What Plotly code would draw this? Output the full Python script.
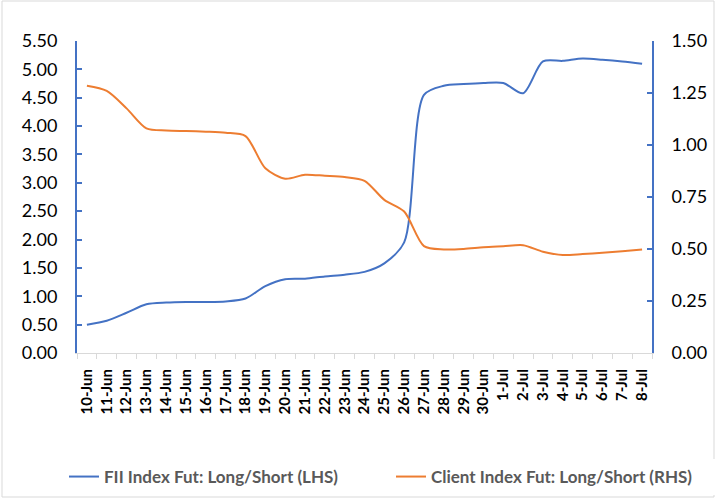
import plotly.graph_objects as go

dates = ["10-Jun", "11-Jun", "12-Jun", "13-Jun", "14-Jun", "15-Jun", "16-Jun", "17-Jun",
         "18-Jun", "19-Jun", "20-Jun", "21-Jun", "22-Jun", "23-Jun", "24-Jun", "25-Jun",
         "26-Jun", "27-Jun", "28-Jun", "29-Jun", "30-Jun", "1-Jul", "2-Jul", "3-Jul",
         "4-Jul", "5-Jul", "6-Jul", "7-Jul", "8-Jul"]

fii_ls = [0.50, 0.57, 0.71, 0.86, 0.89, 0.90, 0.90, 0.91, 0.96, 1.18, 1.30, 1.31, 1.35,
          1.38, 1.43, 1.58, 1.95, 4.55, 4.71, 4.74, 4.76, 4.76, 4.58, 5.14, 5.15, 5.19,
          5.17, 5.14, 5.10]

client_ls = [1.285, 1.26, 1.176, 1.08, 1.07, 1.067, 1.064, 1.059, 1.043, 0.888, 0.838,
             0.857, 0.852, 0.846, 0.828, 0.736, 0.68, 0.514, 0.498, 0.50, 0.508, 0.513,
             0.518, 0.487, 0.471, 0.476, 0.482, 0.489, 0.497]

FONT = "Lato, 'Open Sans', sans-serif"
BLUE = "#4472C4"
ORANGE = "#ED7D31"

fig = go.Figure()
fig.add_trace(go.Scatter(x=dates, y=fii_ls, name="FII Index Fut: Long/Short (LHS)",
                         mode="lines", line=dict(color=BLUE, width=2, shape="spline", smoothing=0.8),
                         yaxis="y"))
fig.add_trace(go.Scatter(x=dates, y=client_ls, name="Client Index Fut: Long/Short (RHS)",
                         mode="lines", line=dict(color=ORANGE, width=2, shape="spline", smoothing=0.8),
                         yaxis="y2"))

W, H = 717, 499
L, R, T, B = 77, 65, 41, 146
pw, ph = W - L - R, H - T - B

def px_x(x):
    return (x - L) / pw

def px_y(y):
    return (H - B - y) / ph

fig.update_layout(
    width=W, height=H,
    margin=dict(l=L, r=R, t=T, b=B, autoexpand=False),
    paper_bgcolor="white", plot_bgcolor="white",
    font=dict(family=FONT, color="#000000"),
    showlegend=True,
    legend=dict(orientation="h", x=px_x(64), xanchor="left", y=px_y(477), yanchor="middle",
                font=dict(size=17, color="#595959", family=FONT, weight="bold"),
                traceorder="normal", entrywidth=282),
    xaxis=dict(type="category", tickangle=-90, tickson="boundaries", ticks="outside",
               ticklen=5, tickcolor="#D9D9D9", showline=True, linecolor="#D9D9D9", linewidth=1,
               showgrid=False, tickfont=dict(size=15, family=FONT, weight="bold", color="#000000"),
               ticklabelstandoff=9, range=[-0.5, len(dates) - 0.5], automargin=False),
    yaxis=dict(range=[0, 5.5], dtick=0.5, tickformat=".2f", showgrid=False, zeroline=False,
               showline=True, linecolor=BLUE, linewidth=2, ticks="inside", ticklen=5,
               tickcolor=BLUE, tickwidth=2, tickfont=dict(size=18, family=FONT, color="#000000"),
               ticklabelstandoff=14, automargin=False),
    yaxis2=dict(range=[0, 1.5], dtick=0.25, tickformat=".2f", overlaying="y", side="right",
                showgrid=False, zeroline=False, showline=True, linecolor=BLUE, linewidth=2,
                ticks="inside", ticklen=5, tickcolor=BLUE, tickwidth=2,
                tickfont=dict(size=18, family=FONT, color="#000000"), ticklabelstandoff=14,
                automargin=False),
    shapes=[dict(type="rect", xref="paper", yref="paper",
                 x0=px_x(2), x1=px_x(714), y0=px_y(497), y1=px_y(1),
                 line=dict(color="#D9D9D9", width=1), fillcolor="rgba(0,0,0,0)", layer="below")],
)

fig.write_html("out.html", config={"displayModeBar": False},
               post_script="document.body.style.margin='0';document.body.style.overflow='hidden';")
